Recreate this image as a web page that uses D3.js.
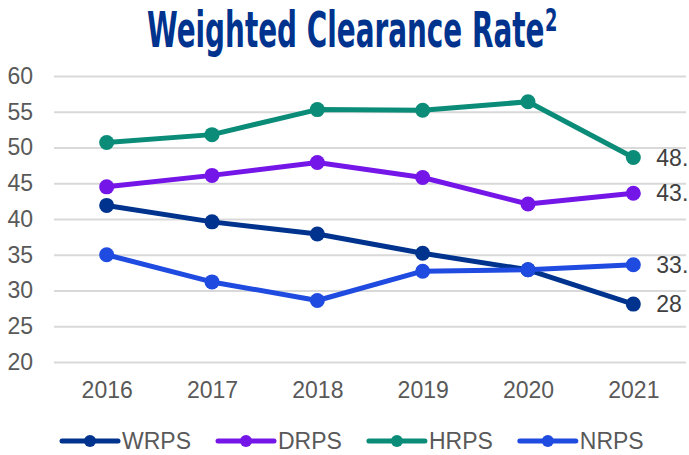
<!DOCTYPE html>
<html>
<head>
<meta charset="utf-8">
<script src="https://cdn.jsdelivr.net/npm/d3@7"></script>
<style>
  body { margin: 0; background: #fff; }
  text { font-family: "Liberation Sans", Arial, sans-serif; fill: #595959; }
</style>
</head>
<body>
<div id="chart"></div>
<script>
// Data
const years = ["2016", "2017", "2018", "2019", "2020", "2021"];
const seriesNames = ["WRPS", "DRPS", "HRPS", "NRPS"];
const wrps = [41.9, 39.6, 37.9, 35.2, 32.9, 28.1];
const drps = [44.5, 46.1, 47.9, 45.8, 42.1, 43.6];
const hrps = [50.7, 51.8, 55.3, 55.2, 56.4, 48.6];
const nrps = [35.0, 31.2, 28.6, 32.7, 32.9, 33.6];
const yTicks = [20, 25, 30, 35, 40, 45, 50, 55, 60];
// end labels as shown (cut off at the right edge in the original)
const endLabels = ["28", "43.", "48.", "33."];
const colors = ["#00338D", "#7516E8", "#0A8C78", "#1F4BE0"];

const W = 689, H = 455;
const plotLeft = 54, plotRight = 686, plotTop = 76, plotBottom = 362;

const svg = d3.select("#chart")
  .append("svg")
  .attr("width", W)
  .attr("height", H);

// Title: heavy condensed look, squeezed to the width of the original
const title = svg.append("text")
  .style("font-family", "'DejaVu Sans Condensed', 'DejaVu Sans', sans-serif")
  .style("font-weight", "bold")
  .style("font-size", "50px")
  .style("fill", "#00338D");
title.append("tspan").text("Weighted Clearance Rate");
title.append("tspan")
  .attr("dx", 1)
  .attr("dy", -16)
  .style("font-size", "32px")
  .text("2");
const tw = title.node().getComputedTextLength();
title.attr("transform", `translate(147,47) scale(${410 / tw},1)`);

// Scales
const x = d3.scalePoint()
  .domain(years)
  .range([plotLeft, plotRight])
  .padding(0.5);

const y = d3.scaleLinear()
  .domain([20, 60])
  .range([plotBottom, plotTop]);

// Y axis with gridlines
const yAxis = svg.append("g")
  .attr("transform", `translate(${plotLeft},0)`)
  .call(d3.axisLeft(y).tickValues(yTicks).tickSize(-(plotRight - plotLeft)).tickPadding(21));
yAxis.select(".domain").remove();
yAxis.selectAll(".tick line").attr("stroke", "#d9d9d9").attr("stroke-width", 2);
yAxis.selectAll(".tick text")
  .style("font-size", "23px")
  .style("fill", "#595959");

// X axis
const xAxis = svg.append("g")
  .attr("transform", `translate(0,${plotBottom})`)
  .call(d3.axisBottom(x).tickSize(0).tickPadding(20));
xAxis.select(".domain").remove();
xAxis.selectAll(".tick text")
  .style("font-size", "23px")
  .style("fill", "#595959");

// Series
const allValues = [wrps, drps, hrps, nrps];
const line = d3.line()
  .x((d, i) => x(years[i]))
  .y(d => y(d));

allValues.forEach((vals, s) => {
  const g = svg.append("g");
  g.append("path")
    .datum(vals)
    .attr("fill", "none")
    .attr("stroke", colors[s])
    .attr("stroke-width", 5)
    .attr("stroke-linejoin", "round")
    .attr("d", line);
  g.selectAll("circle")
    .data(vals)
    .enter()
    .append("circle")
    .attr("cx", (d, i) => x(years[i]))
    .attr("cy", d => y(d))
    .attr("r", 7.5)
    .attr("fill", colors[s]);
});

// End labels
allValues.forEach((vals, s) => {
  svg.append("text")
    .attr("x", x(years[years.length - 1]) + 23)
    .attr("y", y(vals[vals.length - 1]))
    .attr("dy", "0.35em")
    .style("font-size", "23px")
    .style("fill", "#404040")
    .text(endLabels[s]);
});

// Legend
const legend = svg.append("g").attr("transform", "translate(0,441)");
let lx = 62;
seriesNames.forEach((name, s) => {
  const item = legend.append("g").attr("transform", `translate(${lx},0)`);
  item.append("line")
    .attr("x1", 0).attr("x2", 56)
    .attr("stroke", colors[s])
    .attr("stroke-width", 5)
    .attr("stroke-linecap", "round");
  item.append("circle")
    .attr("cx", 28)
    .attr("r", 6)
    .attr("fill", colors[s]);
  const t = item.append("text")
    .attr("x", 60)
    .attr("dy", "0.35em")
    .style("font-size", "23px")
    .style("fill", "#595959")
    .text(name);
  lx += 60 + t.node().getComputedTextLength() + 27;
});
</script>
</body>
</html>
